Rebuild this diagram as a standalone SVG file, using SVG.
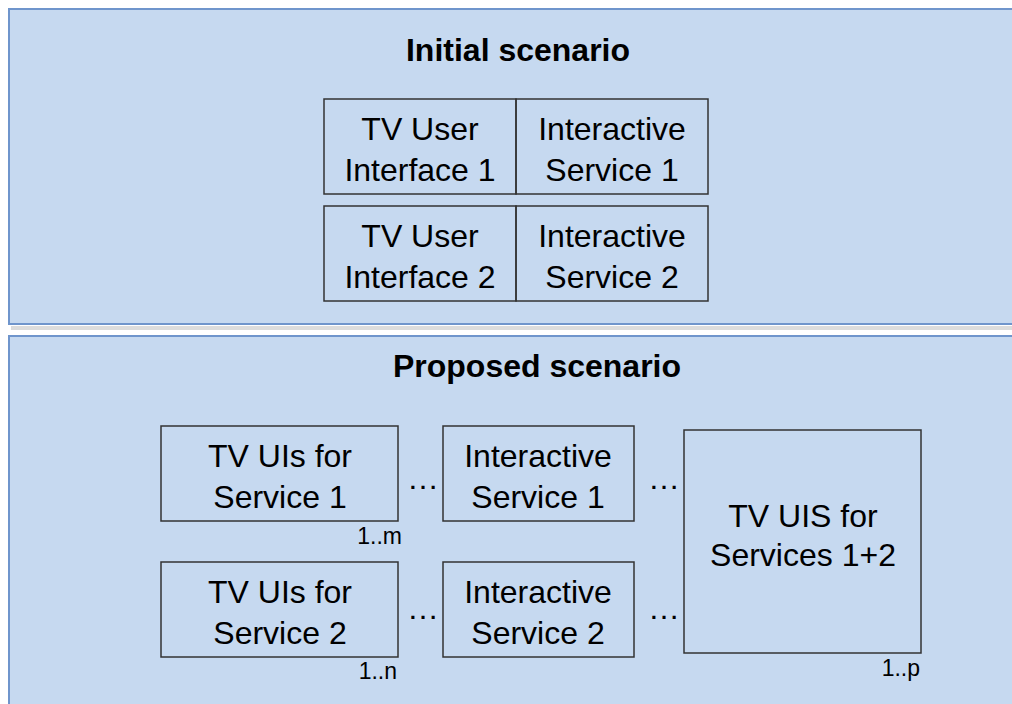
<svg xmlns="http://www.w3.org/2000/svg" width="1012" height="704" viewBox="0 0 1012 704">
<defs>
<style>
.panel{fill:#c6d9f0;stroke:#6f95cc;stroke-width:2}
.shadow{fill:#9a9a9a;opacity:0.35}
.box{fill:none;stroke:#333;stroke-width:1.5}
.t{font-family:"Liberation Sans",Arial,sans-serif;font-size:32px;fill:#000;text-anchor:middle}
.title{font-family:"Liberation Sans",Arial,sans-serif;font-size:32px;font-weight:bold;fill:#000;text-anchor:middle}
.m{font-family:"Liberation Sans",Arial,sans-serif;font-size:23px;fill:#000;text-anchor:end}
</style>
</defs>
<rect width="1012" height="704" fill="#ffffff"/>
<g id="panel-initial">
<rect class="shadow" x="11" y="326" width="1010" height="4"/>
<rect class="panel" x="9" y="9" width="1012" height="315"/>
<text class="title" x="518" y="61">Initial scenario</text>
</g>
<g id="panel-proposed">
<rect class="panel" x="9" y="336" width="1012" height="380"/>
<text class="title" x="537" y="377">Proposed scenario</text>
</g>
<g id="tvui1">
<rect class="box" x="324" y="99" width="192" height="95"/>
<text class="t" x="420" y="140">TV User</text>
<text class="t" x="420" y="181">Interface 1</text>
</g>
<g id="is1">
<rect class="box" x="516" y="99" width="192" height="95"/>
<text class="t" x="612" y="140">Interactive</text>
<text class="t" x="612" y="181">Service 1</text>
</g>
<g id="tvui2">
<rect class="box" x="324" y="206" width="192" height="95"/>
<text class="t" x="420" y="247">TV User</text>
<text class="t" x="420" y="288">Interface 2</text>
</g>
<g id="is2">
<rect class="box" x="516" y="206" width="192" height="95"/>
<text class="t" x="612" y="247">Interactive</text>
<text class="t" x="612" y="288">Service 2</text>
</g>
<g id="tvuis-s1">
<rect class="box" x="161" y="426" width="237" height="95"/>
<text class="t" x="280" y="467">TV UIs for</text>
<text class="t" x="280" y="508">Service 1</text>
<text class="m" x="402" y="544">1..m</text>
</g>
<g id="tvuis-s2">
<rect class="box" x="161" y="562" width="237" height="95"/>
<text class="t" x="280" y="603">TV UIs for</text>
<text class="t" x="280" y="644">Service 2</text>
<text class="m" x="397" y="679">1..n</text>
</g>
<g id="is-p1">
<rect class="box" x="443" y="426" width="191" height="95"/>
<text class="t" x="538" y="467">Interactive</text>
<text class="t" x="538" y="508">Service 1</text>
</g>
<g id="is-p2">
<rect class="box" x="443" y="562" width="191" height="95"/>
<text class="t" x="538" y="603">Interactive</text>
<text class="t" x="538" y="644">Service 2</text>
</g>
<g id="tvuis-s12">
<rect class="box" x="684" y="430" width="237" height="223"/>
<text class="t" x="803" y="527">TV UIS for</text>
<text class="t" x="803" y="566">Services 1+2</text>
<text class="m" x="920" y="676">1..p</text>
</g>
<g id="connectors">
<text class="t" x="423" y="489">…</text>
<text class="t" x="423" y="619">…</text>
<text class="t" x="664" y="489">…</text>
<text class="t" x="664" y="619">…</text>
</g>
</svg>
